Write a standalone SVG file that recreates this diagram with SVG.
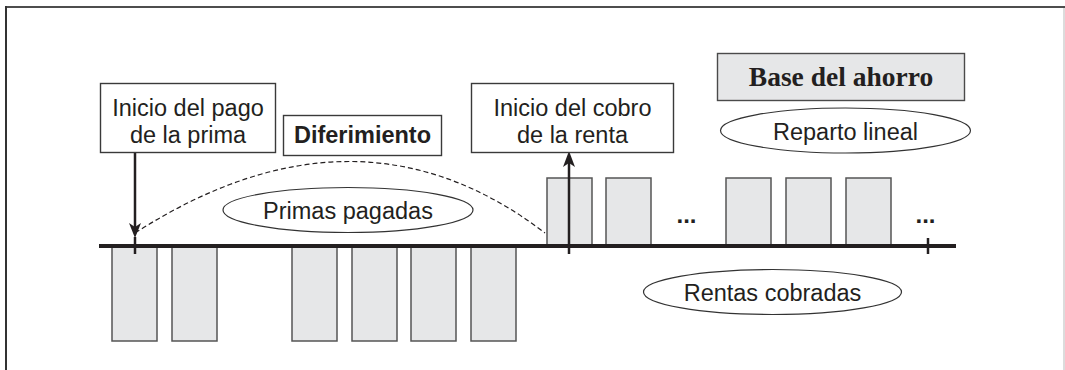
<svg xmlns="http://www.w3.org/2000/svg" width="1065" height="370" viewBox="0 0 1065 370">
<defs>
<style>
.box{fill:#fff;stroke:#3a3a3a;stroke-width:1.4}
.gbox{fill:#e6e7e8;stroke:#4a4a4a;stroke-width:1.4}
.bar{fill:#e6e7e8;stroke:#555;stroke-width:1.5}
.ell{fill:#fff;stroke:#333;stroke-width:1.2}
.ln{stroke:#231f20;stroke-width:2.5}
.head{fill:#231f20}
.t{font-family:"Liberation Sans",Arial,sans-serif;font-size:23.5px;fill:#231f20;text-anchor:middle}
.b{font-weight:bold}
.tm{font-family:"Liberation Serif","Times New Roman",serif;font-size:27.5px;font-weight:bold;fill:#231f20;text-anchor:middle}
.dots{font-family:"Liberation Sans",Arial,sans-serif;font-size:24px;font-weight:bold;fill:#231f20;text-anchor:middle}
</style>
</defs>
<rect width="1065" height="370" fill="#fff"/>
<g id="frame">
<line x1="6" y1="7" x2="1065" y2="7" stroke="#4d4d4d" stroke-width="2"/>
<line x1="6" y1="6" x2="6" y2="370" stroke="#333" stroke-width="2"/>
<line x1="1064" y1="8" x2="1064" y2="370" stroke="#d0d0d0" stroke-width="1.5"/>
</g>
<g id="bars-pagos">
<rect class="bar" x="112" y="246" width="45" height="95"/>
<rect class="bar" x="172" y="246" width="45" height="95"/>
<rect class="bar" x="292" y="246" width="45" height="95"/>
<rect class="bar" x="352" y="246" width="45" height="95"/>
<rect class="bar" x="411" y="246" width="45" height="95"/>
<rect class="bar" x="471" y="246" width="45" height="95"/>
</g>
<g id="bars-rentas">
<rect class="bar" x="547" y="178" width="45" height="68"/>
<rect class="bar" x="606" y="178" width="45" height="68"/>
<rect class="bar" x="726" y="178" width="45" height="68"/>
<rect class="bar" x="786" y="178" width="45" height="68"/>
<rect class="bar" x="846" y="178" width="45" height="68"/>
</g>
<g id="connectors">
<path d="M135,233 Q358,90 545,233" fill="none" stroke="#231f20" stroke-width="1.2" stroke-dasharray="5,3"/>
<line x1="99" y1="246" x2="956" y2="246" stroke="#231f20" stroke-width="4"/>
<line class="ln" x1="135" y1="237" x2="135" y2="254"/>
<line class="ln" x1="928" y1="238" x2="928" y2="254"/>
<line class="ln" x1="135" y1="153" x2="135" y2="228"/>
<path class="head" d="M135,238 L129,223 L135,227 L141,223 Z"/>
<line class="ln" x1="569" y1="254" x2="569" y2="162"/>
<path class="head" d="M569,151 L563,167 L569,163 L575,167 Z"/>
</g>
<g id="n-inicio-pago">
<rect class="box" x="100.5" y="83.5" width="175" height="69"/>
<text class="t" x="188" y="115.5">Inicio del pago</text>
<text class="t" x="188" y="143">de la prima</text>
</g>
<g id="n-diferimiento">
<rect class="box" x="283.5" y="115.5" width="158" height="40"/>
<text class="t b" x="362.5" y="143">Diferimiento</text>
</g>
<g id="n-inicio-cobro">
<rect class="box" x="471.5" y="83.5" width="202" height="69"/>
<text class="t" x="572.5" y="115.5">Inicio del cobro</text>
<text class="t" x="572.5" y="143">de la renta</text>
</g>
<g id="n-base">
<rect class="gbox" x="717.5" y="53.5" width="247" height="47"/>
<text class="tm" x="841" y="86">Base del ahorro</text>
</g>
<g id="n-reparto">
<ellipse class="ell" cx="845.5" cy="130.5" rx="125" ry="22.5"/>
<text class="t" x="845.5" y="139.5">Reparto lineal</text>
</g>
<g id="n-primas">
<ellipse class="ell" cx="348" cy="210" rx="125" ry="22.5"/>
<text class="t" x="348" y="218.5">Primas pagadas</text>
</g>
<g id="n-rentas">
<ellipse class="ell" cx="772.5" cy="292" rx="129" ry="22.5"/>
<text class="t" x="772.5" y="300.5">Rentas cobradas</text>
</g>
<g id="dots">
<text class="dots" x="686.5" y="223">...</text>
<text class="dots" x="925.5" y="223">...</text>
</g>
</svg>
